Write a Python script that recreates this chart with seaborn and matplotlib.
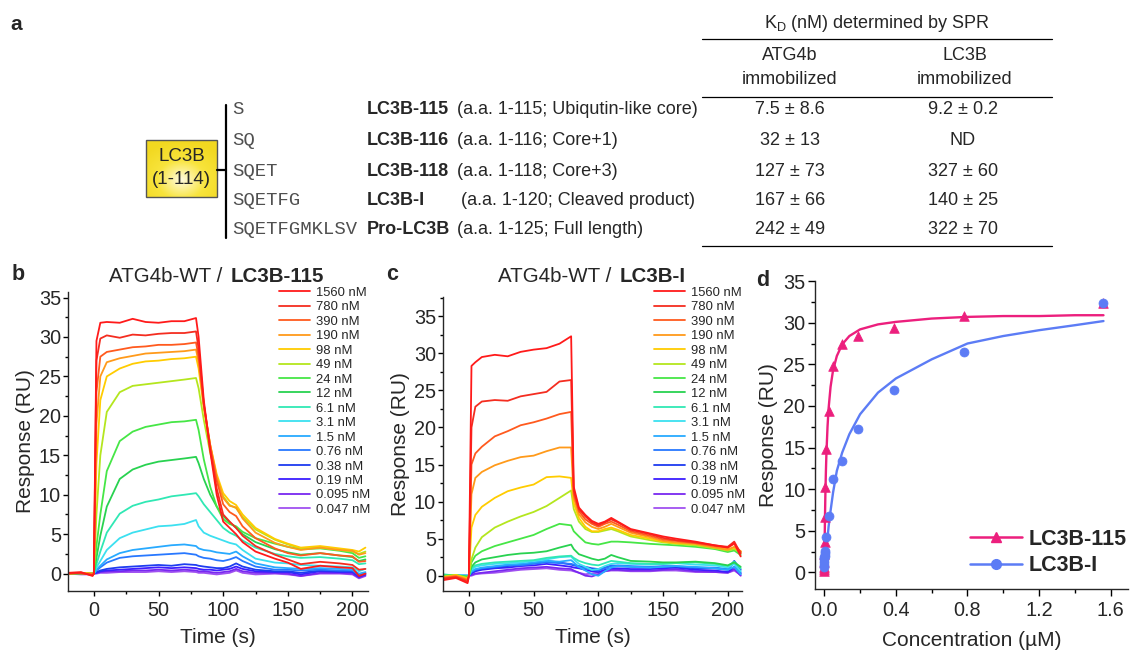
import numpy as np
import pandas as pd
import seaborn as sns
import matplotlib
matplotlib.use('Agg')
import matplotlib.pyplot as plt
from matplotlib.lines import Line2D
from matplotlib.patches import Rectangle
from matplotlib.colors import LinearSegmentedColormap
from matplotlib.ticker import MultipleLocator

# ---------------- data ----------------
# panel a table
sequences = ['S', 'SQ', 'SQET', 'SQETFG', 'SQETFGMKLSV']
constructs = ['LC3B-115', 'LC3B-116', 'LC3B-118', 'LC3B-I', 'Pro-LC3B']
descriptions = ['(a.a. 1-115; Ubiqutin-like core)', '(a.a. 1-116; Core+1)',
                '(a.a. 1-118; Core+3)', '(a.a. 1-120; Cleaved product)',
                '(a.a. 1-125; Full length)']
kd_atg4b = ['7.5 ± 8.6', '32 ± 13', '127 ± 73', '167 ± 66', '242 ± 49']
kd_lc3b = ['9.2 ± 0.2', 'ND', '327 ± 60', '140 ± 25', '322 ± 70']

# analyte concentrations (nM)
conc_nm = [1560, 780, 390, 190, 98, 49, 24, 12, 6.1, 3.1, 1.5, 0.76, 0.38, 0.19, 0.095, 0.047]
conc_labels = [f'{c:g} nM' for c in conc_nm]
trace_colors = ['#ff1a1a', '#f42d20', '#ff5a1e', '#ff9a1a', '#ffcc00', '#b4e61e', '#46e646', '#28d250',
                '#30e8b4', '#3ce0f0', '#28aaff', '#2878ff', '#1e3cf0', '#3c1eff', '#7828f0', '#a050f0']

# sensorgram time points (s)
time_s = [-20, -10, -1, 0, 2, 5, 10, 20, 30, 40, 50, 60, 70, 79, 81, 85, 90, 95, 100, 105,
          110, 115, 125, 140, 150, 160, 175, 190, 200, 205, 210]

# panel b: ATG4b-WT / LC3B-115
b_1560 = [0.1, 0.2, -0.3, 0.0, 29.5, 31.8, 31.9, 31.8, 32.3, 31.9, 31.8, 32.0, 32.0, 32.4, 30.0, 22.0, 15.5, 10.0, 6.6, 5.8, 5.0, 4.0, 2.8, 1.9, 1.4, 0.6, 1.0, 0.8, 0.7, -0.3, 0.0]
b_780 = [0.0, 0.1, -0.2, 0.0, 27.0, 29.8, 30.2, 29.9, 30.3, 30.2, 30.4, 30.5, 30.5, 30.7, 28.5, 21.5, 15.8, 10.8, 7.5, 6.6, 5.8, 4.8, 3.5, 2.4, 1.8, 1.2, 1.5, 1.3, 1.1, 0.5, 0.6]
b_390 = [0.1, 0.0, -0.1, 0.0, 23.0, 27.5, 28.1, 28.4, 28.7, 28.8, 29.0, 29.0, 29.1, 29.3, 27.5, 21.5, 16.2, 11.8, 8.8, 7.8, 7.3, 6.0, 4.5, 3.2, 2.6, 2.3, 2.6, 2.3, 2.2, 1.5, 1.6]
b_190 = [0.0, 0.1, 0.0, 0.0, 19.0, 25.0, 26.8, 27.3, 27.6, 27.9, 28.0, 28.1, 28.2, 28.4, 26.8, 21.3, 16.3, 12.3, 9.6, 8.6, 8.4, 7.0, 5.2, 3.9, 3.4, 3.0, 3.3, 3.0, 2.9, 2.4, 2.6]
b_98 = [0.0, 0.1, 0.0, 0.0, 14.0, 22.0, 25.0, 26.0, 26.6, 26.9, 27.0, 27.2, 27.3, 27.5, 26.0, 21.0, 16.3, 12.6, 10.2, 9.2, 8.7, 7.5, 5.8, 4.4, 3.8, 3.3, 3.5, 3.2, 3.0, 2.8, 3.3]
b_49 = [0.0, 0.1, 0.0, 0.0, 7.5, 15.0, 20.5, 23.0, 23.8, 24.0, 24.2, 24.4, 24.6, 24.8, 23.5, 19.5, 15.3, 12.0, 9.8, 8.7, 8.3, 7.2, 5.6, 4.3, 3.7, 3.2, 3.3, 3.0, 2.8, 2.5, 2.8]
b_24 = [0.0, 0.0, 0.0, 0.0, 3.5, 7.5, 13.0, 16.8, 18.0, 18.6, 18.9, 19.2, 19.3, 19.5, 18.2, 14.5, 11.0, 8.5, 6.9, 6.3, 6.0, 5.3, 4.5, 3.8, 3.4, 3.1, 3.2, 2.9, 2.6, 2.0, 2.2]
b_12 = [0.0, 0.1, 0.0, 0.0, 2.0, 4.8, 8.5, 12.0, 13.2, 13.8, 14.2, 14.4, 14.6, 14.8, 14.0, 12.0, 10.0, 8.5, 7.3, 6.5, 5.8, 5.0, 4.0, 3.1, 2.7, 2.4, 2.6, 2.3, 2.1, 1.6, 1.8]
b_6_1 = [0.0, 0.0, 0.0, 0.0, 1.2, 2.8, 5.2, 7.6, 8.6, 9.1, 9.4, 9.8, 10.0, 10.2, 9.8, 8.8, 7.8, 6.8, 5.8, 5.2, 4.8, 4.2, 3.3, 2.5, 2.2, 2.0, 2.1, 1.9, 1.7, 1.2, 1.3]
b_3_1 = [0.0, 0.1, 0.0, 0.0, 0.8, 1.6, 3.0, 4.5, 5.2, 5.6, 6.0, 6.1, 6.3, 6.8, 6.0, 5.2, 4.8, 4.5, 4.2, 3.9, 3.7, 3.0, 1.9, 1.4, 1.3, 1.1, 1.0, 0.9, 0.8, 0.3, 0.6]
b_1_5 = [0.0, 0.0, 0.0, 0.0, 0.5, 1.0, 1.8, 2.6, 3.0, 3.2, 3.4, 3.6, 3.7, 3.5, 3.2, 3.0, 2.9, 2.7, 2.6, 2.5, 2.8, 2.2, 1.3, 0.8, 0.7, 0.6, 0.7, 0.6, 0.5, 0.0, 0.2]
b_0_76 = [0.0, 0.0, 0.0, 0.0, 0.4, 0.8, 1.4, 2.0, 2.2, 2.3, 2.4, 2.5, 2.6, 2.4, 2.2, 2.0, 1.9, 1.7, 1.6, 1.8, 2.1, 1.6, 0.9, 0.5, 0.5, 0.4, 0.5, 0.4, 0.4, -0.2, 0.1]
b_0_38 = [0.1, 0.0, 0.0, 0.0, 0.2, 0.4, 0.6, 0.8, 0.9, 1.0, 1.1, 1.0, 1.2, 1.1, 1.0, 0.9, 0.8, 0.7, 0.7, 0.9, 1.3, 0.9, 0.5, 0.3, 0.3, 0.1, 0.4, 0.3, 0.3, -0.3, 0.0]
b_0_19 = [0.0, 0.0, 0.0, 0.0, 0.1, 0.3, 0.4, 0.5, 0.6, 0.7, 0.8, 0.7, 0.8, 0.7, 0.6, 0.5, 0.5, 0.4, 0.5, 0.6, 0.9, 0.6, 0.3, 0.2, 0.2, -0.1, 0.3, 0.2, 0.2, -0.4, -0.1]
b_0_095 = [0.0, 0.0, -0.1, 0.0, 0.1, 0.2, 0.3, 0.3, 0.4, 0.4, 0.5, 0.4, 0.5, 0.4, 0.3, 0.3, 0.2, 0.1, 0.2, 0.3, 0.6, 0.3, 0.1, 0.1, 0.0, -0.3, 0.1, 0.1, 0.0, -0.5, -0.2]
b_0_047 = [0.0, -0.1, -0.1, 0.0, 0.0, 0.1, 0.1, 0.2, 0.2, 0.2, 0.3, 0.2, 0.3, 0.2, 0.1, 0.1, 0.0, -0.1, 0.0, 0.1, 0.4, 0.1, -0.1, 0.0, -0.1, -0.3, 0.0, 0.0, -0.1, -0.6, -0.3]

# panel c: ATG4b-WT / LC3B-I
c_1560 = [-0.6, -0.3, -1.0, 0.0, 28.3, 28.8, 29.5, 29.8, 29.6, 30.2, 30.5, 30.7, 31.3, 32.3, 12.0, 9.2, 8.2, 7.4, 7.0, 7.3, 7.8, 7.3, 6.3, 5.7, 5.3, 5.0, 4.6, 4.1, 3.8, 4.4, 2.6]
c_780 = [-0.4, -0.2, -0.8, 0.0, 20.0, 22.8, 23.5, 23.7, 23.6, 24.2, 24.5, 24.8, 26.2, 26.4, 11.5, 9.0, 8.0, 7.2, 6.8, 7.2, 7.6, 7.2, 6.2, 5.6, 5.1, 4.8, 4.5, 4.1, 3.9, 4.6, 3.0]
c_390 = [-0.3, -0.1, -0.6, 0.0, 15.0, 16.5, 17.4, 18.8, 19.5, 20.3, 20.7, 21.2, 21.8, 22.1, 11.0, 8.7, 7.6, 7.0, 6.6, 7.0, 7.3, 6.9, 6.0, 5.4, 4.9, 4.7, 4.4, 4.0, 3.8, 4.3, 3.2]
c_190 = [-0.2, 0.0, -0.5, 0.0, 11.0, 13.2, 14.0, 14.9, 15.5, 16.0, 16.2, 16.8, 17.3, 17.3, 10.5, 8.3, 7.2, 6.6, 6.3, 6.6, 7.0, 6.6, 5.8, 5.2, 4.7, 4.5, 4.3, 3.8, 3.5, 3.9, 3.3]
c_98 = [-0.2, 0.1, -0.4, 0.0, 6.5, 8.2, 9.3, 10.5, 11.4, 11.9, 12.3, 13.3, 13.4, 13.2, 9.8, 7.8, 6.6, 6.0, 6.0, 6.3, 6.5, 6.2, 5.5, 5.0, 4.6, 4.4, 4.3, 3.9, 3.6, 3.8, 3.3]
c_49 = [-0.1, 0.1, -0.3, 0.0, 2.2, 3.8, 5.2, 6.5, 7.3, 8.0, 8.6, 9.4, 10.5, 11.5, 9.0, 7.3, 6.3, 5.9, 5.9, 6.1, 6.3, 6.0, 5.3, 4.8, 4.5, 4.3, 4.1, 3.7, 3.4, 3.6, 3.1]
c_24 = [0.0, 0.1, -0.2, 0.0, 1.8, 2.7, 3.3, 4.0, 4.5, 5.0, 5.5, 6.3, 7.0, 6.8, 6.0, 5.3, 4.5, 4.3, 4.2, 4.4, 4.6, 4.6, 4.5, 4.3, 4.2, 4.1, 3.9, 3.6, 3.2, 3.4, 2.8]
c_12 = [0.0, 0.0, -0.1, 0.0, 1.2, 1.8, 2.2, 2.5, 2.8, 3.0, 3.1, 3.3, 3.8, 4.2, 3.6, 2.9, 2.6, 2.3, 2.1, 2.3, 2.8, 2.5, 2.0, 1.9, 1.8, 1.8, 1.9, 1.7, 1.4, 1.8, 1.2]
c_6_1 = [0.2, 0.0, -0.1, 0.0, 1.0, 1.4, 1.6, 1.8, 1.9, 2.0, 2.1, 2.4, 2.6, 2.7, 2.4, 2.0, 1.7, 1.5, 1.4, 1.7, 2.0, 1.9, 1.7, 1.6, 1.6, 1.7, 1.8, 1.6, 1.3, 1.9, 1.0]
c_3_1 = [0.1, 0.1, 0.0, 0.0, 0.8, 1.2, 1.4, 1.6, 1.7, 1.8, 2.0, 2.2, 2.5, 2.6, 2.2, 1.6, 1.2, 0.8, 0.9, 1.3, 1.6, 1.7, 1.6, 1.5, 1.6, 1.7, 1.5, 1.4, 1.1, 1.6, 0.6]
c_1_5 = [0.0, 0.1, 0.0, 0.0, 0.6, 0.9, 1.1, 1.3, 1.5, 1.6, 1.8, 2.0, 1.9, 2.1, 1.8, 1.2, 0.7, 0.2, 0.0, 0.6, 1.1, 1.3, 1.2, 1.1, 1.2, 1.3, 1.2, 1.0, 0.8, 1.2, 0.2]
c_0_76 = [0.0, 0.0, 0.0, 0.0, 0.5, 0.8, 1.0, 1.2, 1.4, 1.4, 1.6, 1.8, 1.7, 1.6, 1.5, 1.2, 1.0, 0.8, 0.7, 1.0, 1.3, 1.4, 1.3, 1.2, 1.3, 1.3, 1.1, 1.1, 0.9, 1.7, 0.4]
c_0_38 = [0.1, 0.0, 0.0, 0.0, 0.4, 0.7, 0.9, 1.1, 1.3, 1.5, 1.7, 2.0, 1.8, 1.5, 1.4, 1.3, 1.2, 1.0, 0.9, 1.1, 1.4, 1.3, 1.2, 1.1, 1.2, 1.2, 1.0, 1.0, 0.8, 2.0, 0.8]
c_0_19 = [0.0, 0.0, 0.0, 0.0, 0.3, 0.6, 0.8, 1.0, 1.1, 1.3, 1.4, 1.6, 1.4, 1.2, 1.1, 1.0, 0.8, 0.6, 0.5, 0.8, 1.0, 1.0, 0.9, 0.9, 1.0, 1.1, 0.8, 0.7, 0.5, 1.2, 0.3]
c_0_095 = [0.0, 0.0, -0.1, 0.0, 0.1, 0.3, 0.4, 0.6, 0.8, 1.0, 1.1, 1.2, 1.0, 0.9, 0.7, 0.4, 0.0, -0.1, 0.2, 0.6, 0.8, 0.8, 0.7, 0.7, 0.8, 0.9, 0.6, 0.5, 0.4, 0.9, 0.0]
c_0_047 = [0.0, 0.0, -0.1, 0.0, 0.0, 0.2, 0.3, 0.4, 0.6, 0.8, 0.9, 1.0, 0.8, 0.7, 0.6, 0.4, 0.2, 0.3, 0.4, 0.6, 0.7, 0.7, 0.6, 0.6, 0.7, 0.7, 0.5, 0.5, 0.4, 0.7, 0.1]

traces_b = [b_1560, b_780, b_390, b_190, b_98, b_49, b_24, b_12, b_6_1, b_3_1, b_1_5,
            b_0_76, b_0_38, b_0_19, b_0_095, b_0_047]
traces_c = [c_1560, c_780, c_390, c_190, c_98, c_49, c_24, c_12, c_6_1, c_3_1, c_1_5,
            c_0_76, c_0_38, c_0_19, c_0_095, c_0_047]

# panel d: steady-state response vs concentration
resp_115 = [32.4, 30.8, 29.4, 28.4, 27.5, 24.8, 19.4, 14.8, 10.3, 6.6, 3.7, 2.2, 1.2, 0.7, 0.4, 0.2]
resp_I = [32.4, 26.5, 21.9, 17.2, 13.4, 11.2, 6.8, 4.2, 2.6, 2.3, 2.0, 1.6, 1.8, 1.2, 0.9, 0.6]
fit_conc = [0, 0.002, 0.004, 0.006, 0.009, 0.012, 0.018, 0.024, 0.035, 0.049, 0.07, 0.1,
            0.14, 0.2, 0.3, 0.4, 0.6, 0.8, 1.0, 1.2, 1.4, 1.56]
fit_115 = [0, 3.9, 6.9, 9.4, 12.2, 14.4, 17.5, 19.7, 22.3, 24.3, 26.0, 27.4, 28.4, 29.2,
           29.8, 30.1, 30.5, 30.7, 30.8, 30.8, 30.9, 30.9]
fit_I = [0, 0.5, 1.0, 1.5, 2.2, 2.9, 4.1, 5.5, 7.4, 9.6, 12.2, 14.4, 16.6, 19.0, 21.6,
         23.3, 25.6, 27.5, 28.4, 29.1, 29.7, 30.2]

PINK = '#ec1f7d'
BLUE = '#5c7cf5'

# ---------------- figure ----------------
sns.set_style('ticks')
plt.rcParams['font.family'] = ['Liberation Sans', 'DejaVu Sans']
plt.rcParams['mathtext.fontset'] = 'custom'
plt.rcParams['mathtext.rm'] = 'Liberation Sans'
plt.rcParams['axes.linewidth'] = 1.0

W, H = 1130, 655
fig = plt.figure(figsize=(W / 100, H / 100), dpi=100)

# overlay in pixel coordinates for panel a and free text
ov = fig.add_axes([0, 0, 1, 1])
ov.patch.set_alpha(0)
ov.axis('off')

FS_A = 13

# --- panel a ---
ov.text(16, 25, 'a', fontsize=15, fontweight='bold', va='center', ha='center')
ov.text(877, 24, r'K$_\mathregular{D}$ (nM) determined by SPR', fontsize=FS_A, ha='center', va='center')
for yl in (39.3, 97.3, 245.7):
    ov.plot([702, 1052], [yl, yl], color='black', lw=0.9)
for x, head in ((790, 'ATG4b'), (965, 'LC3B')):
    ov.text(x, 55, head, fontsize=FS_A, ha='center', va='center')
    ov.text(x, 80, 'immobilized', fontsize=FS_A, ha='center', va='center')

row_y = [110, 140.5, 171, 200.5, 230]
desc_x = [457, 457, 457, 461, 457]
for i in range(len(constructs)):
    y = row_y[i]
    ov.text(232, y, sequences[i], fontsize=13.6, family='Liberation Mono', color='#505050',
            ha='left', va='center')
    ov.text(367, y, constructs[i], fontsize=FS_A, fontweight='bold', ha='left', va='center')
    ov.text(desc_x[i], y, descriptions[i], fontsize=FS_A, ha='left', va='center')
    ov.text(790, y, kd_atg4b[i], fontsize=FS_A, ha='center', va='center')
    ov.text(963, y, kd_lc3b[i], fontsize=FS_A, ha='center', va='center')

# LC3B core box with soft gradient
yy, xx = np.mgrid[0:1:60j, 0:1:70j]
glow = np.hypot((xx - 0.5) / 0.7, (yy - 0.7) / 0.7)
ycmap = LinearSegmentedColormap.from_list('ybox', ['#fffbe0', '#f8e43c', '#f2d820'])
ov.imshow(glow, extent=(146, 216.7, 196.7, 140), cmap=ycmap, vmin=0, vmax=1.0,
          aspect='auto', zorder=1, interpolation='bilinear')
ov.add_patch(Rectangle((146, 140), 70.7, 56.7, fill=False, ec='#555555', lw=1.0, zorder=2))
ov.text(181.5, 156.5, 'LC3B', fontsize=13.5, ha='center', va='center', zorder=3)
ov.text(181.5, 179, '(1-114)', fontsize=13.5, ha='center', va='center', zorder=3)
ov.plot([216.7, 226], [170, 170], color='black', lw=1.6)
ov.plot([226, 226], [105, 238], color='black', lw=1.6)

# panel letters and titles
ov.text(18, 275, 'b', fontsize=15.5, fontweight='bold', va='center', ha='center')
ov.text(392, 275, 'c', fontsize=15.5, fontweight='bold', va='center', ha='center')
ov.text(763, 281, 'd', fontsize=15.5, fontweight='bold', va='center', ha='center')
ov.text(222, 276, 'ATG4b-WT /', fontsize=14.8, ha='right', va='center')
ov.text(231, 276, 'LC3B-115', fontsize=14.8, fontweight='bold', ha='left', va='center')
ov.text(611, 276, 'ATG4b-WT /', fontsize=14.8, ha='right', va='center')
ov.text(620, 276, 'LC3B-I', fontsize=14.8, fontweight='bold', ha='left', va='center')
ov.set_xlim(0, W)
ov.set_ylim(H, 0)


def px_axes(left, top, right, bottom):
    return fig.add_axes([left / W, 1 - bottom / H, (right - left) / W, (bottom - top) / H])


def style(ax, xmaj, xmin, ymaj, ymin, tlen, ypad):
    sns.despine(ax=ax)
    ax.xaxis.set_major_locator(MultipleLocator(xmaj))
    ax.xaxis.set_minor_locator(MultipleLocator(xmin))
    ax.yaxis.set_major_locator(MultipleLocator(ymaj))
    ax.yaxis.set_minor_locator(MultipleLocator(ymin))
    ax.tick_params(which='major', direction='out', length=tlen, width=1.0, labelsize=14.3,
                   color='black')
    ax.tick_params(which='minor', direction='out', length=tlen * 0.6, width=1.0, color='black')
    ax.tick_params(axis='y', which='major', pad=ypad)
    ax.tick_params(axis='x', which='major', pad=3.5)
    ax.grid(False)


def draw_traces(ax, traces, legend_x):
    df = pd.DataFrame({
        'Time (s)': np.tile(time_s, len(traces)),
        'Response (RU)': np.concatenate(traces),
        'conc': np.repeat(conc_labels, len(time_s)),
    })
    for lab, col in reversed(list(zip(conc_labels, trace_colors))):
        sns.lineplot(data=df[df['conc'] == lab], x='Time (s)', y='Response (RU)', color=col,
                     lw=1.3, label=lab, estimator=None, sort=False, ax=ax)
    h, l = ax.get_legend_handles_labels()
    ax.legend(h[::-1], l[::-1], loc='upper left', bbox_to_anchor=(legend_x / W, 1 - 286.5 / H),
              bbox_transform=fig.transFigure, frameon=False, borderpad=0, borderaxespad=0,
              handlelength=2.4, handletextpad=0.42, labelspacing=0.18, fontsize=9.4)
    ax.set_xlabel('Time (s)', fontsize=15, labelpad=6)
    ax.set_ylabel('Response (RU)', fontsize=15, labelpad=3)


# --- panel b ---
ax_b = px_axes(68, 292, 368, 591)
draw_traces(ax_b, traces_b, 279)
ax_b.set_xlim(-20, 212)
ax_b.set_ylim(-2.2, 35.7)
style(ax_b, 50, 25, 5, 2.5, 3.5, 1.5)

# --- panel c ---
ax_c = px_axes(443, 297, 742, 591)
draw_traces(ax_c, traces_c, 654)
ax_c.set_xlim(-20, 211)
ax_c.set_ylim(-2.06, 37.6)
style(ax_c, 50, 25, 5, 2.5, 3.5, 1.5)

# --- panel d ---
ax_d = px_axes(815, 280.7, 1128, 589.3)
conc_um = [c / 1000 for c in conc_nm]
sns.lineplot(x=fit_conc, y=fit_115, color=PINK, lw=1.7, ax=ax_d)
sns.scatterplot(x=conc_um, y=resp_115, marker='^', s=48, color=PINK, edgecolor=PINK,
                linewidth=0.5, ax=ax_d, zorder=3)
sns.lineplot(x=fit_conc, y=fit_I, color=BLUE, lw=1.7, ax=ax_d)
sns.scatterplot(x=conc_um, y=resp_I, marker='o', s=42, color=BLUE, edgecolor=BLUE,
                linewidth=0.5, ax=ax_d, zorder=4)
ax_d.set_xlim(-0.052, 1.697)
ax_d.set_ylim(-2.04, 35.05)
style(ax_d, 0.4, 0.2, 5, 2.5, 5, 2)
ax_d.set_xlabel('Concentration (µM)', fontsize=15, labelpad=8)
ax_d.set_ylabel('Response (RU)', fontsize=15, labelpad=4)
handles = [Line2D([], [], color=PINK, marker='^', ms=7, lw=1.8),
           Line2D([], [], color=BLUE, marker='o', ms=7, lw=1.8)]
ax_d.legend(handles, ['LC3B-115', 'LC3B-I'], loc='upper left',
            bbox_to_anchor=(970 / W, 1 - 529 / H), bbox_transform=fig.transFigure,
            frameon=False, borderpad=0, borderaxespad=0, handlelength=2.4,
            handletextpad=0.32, labelspacing=0.25, prop=dict(weight='bold', size=15.5))

fig.savefig('out.png', dpi=100)
